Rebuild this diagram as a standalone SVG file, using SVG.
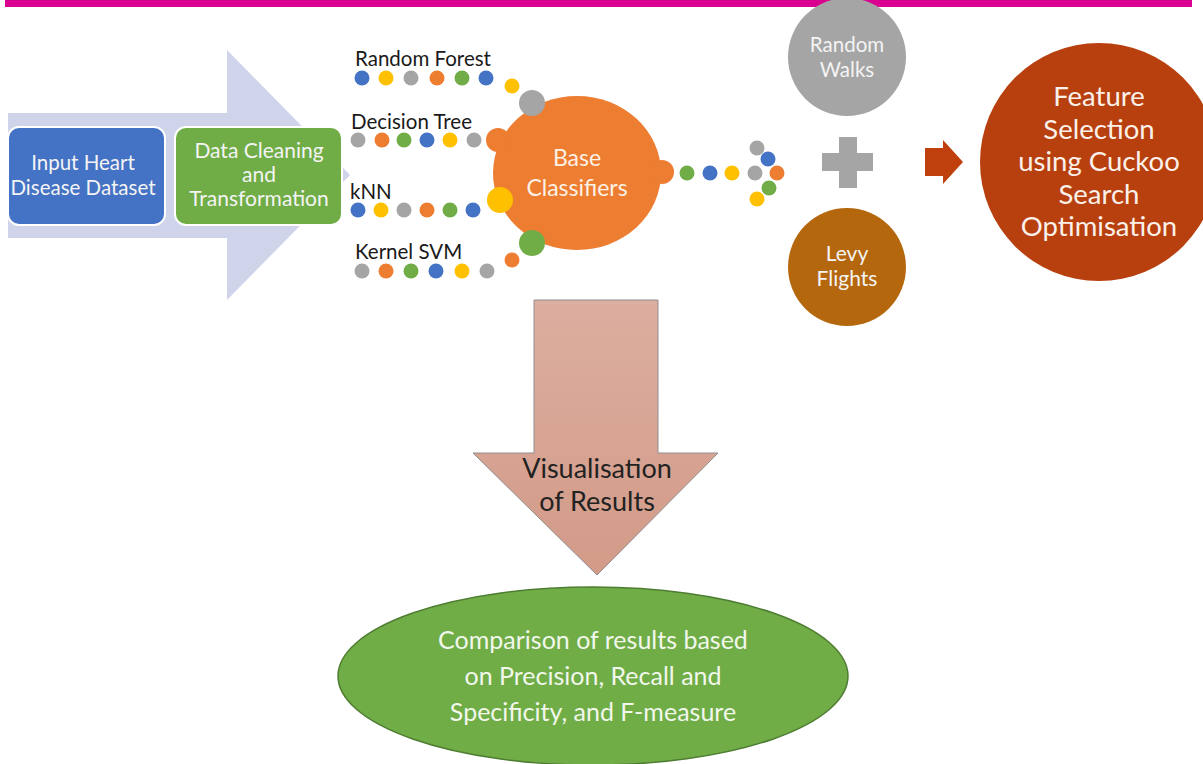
<svg xmlns="http://www.w3.org/2000/svg" width="1203" height="764" viewBox="0 0 1203 764">
<defs>
<style>
text{font-family:Lato,"Open Sans","Liberation Sans",sans-serif;text-anchor:middle}
.lbl{font-size:20.5px;fill:#1a1a1a;text-anchor:start}
.wt{fill:#f4f4f4}
.b{fill:#4472c4}.y{fill:#ffc000}.g{fill:#a5a5a5}.o{fill:#ed7d31}.gr{fill:#70ad47}
</style>
<linearGradient id="dg" x1="0" y1="0" x2="0" y2="1">
<stop offset="0" stop-color="#dcae9f"/><stop offset="1" stop-color="#d39a88"/>
</linearGradient>
</defs>
<rect x="0" y="0" width="1203" height="764" fill="#ffffff"/>
<rect x="5" y="0" width="1187" height="7" fill="#d9008f"/>

<g id="big-arrow">
<polygon points="8,113 227,113 227,50 350,175 227,300 227,238 8,238" fill="#cfd4ea"/>
</g>

<g id="input">
<rect x="8" y="127" width="157" height="98" rx="11" fill="#4472c4" stroke="#ffffff" stroke-width="2"/>
<text class="wt" x="83" y="170" font-size="20.5">Input Heart</text>
<text class="wt" x="83" y="195" font-size="20.5">Disease Dataset</text>
</g>

<g id="cleaning">
<rect x="175" y="127" width="167" height="98" rx="11" fill="#70ad47" stroke="#ffffff" stroke-width="2"/>
<text class="wt" x="259" y="158" font-size="21">Data Cleaning</text>
<text class="wt" x="259" y="182" font-size="21">and</text>
<text class="wt" x="259" y="206" font-size="21">Transformation</text>
</g>

<g id="labels">
<text class="lbl" x="355" y="66">Random Forest</text>
<text class="lbl" x="351" y="129">Decision Tree</text>
<text class="lbl" x="350" y="199">kNN</text>
<text class="lbl" x="355" y="259">Kernel SVM</text>
</g>

<g id="base-classifiers">
<ellipse cx="577" cy="173" rx="84" ry="77" class="o"/>
<circle cx="498" cy="140" r="12" class="o"/>
<circle cx="662" cy="172" r="12" class="o"/>
<text x="577" y="166" font-size="23" fill="#fdf1e6">Base</text>
<text x="577" y="196" font-size="23" fill="#fdf1e6">Classifiers</text>
</g>

<g id="connectors">
<circle cx="362" cy="78" r="7.5" class="b"/>
<circle cx="386" cy="78" r="7.5" class="y"/>
<circle cx="411" cy="78" r="7.5" class="g"/>
<circle cx="437" cy="78" r="7.5" class="o"/>
<circle cx="462" cy="78" r="7.5" class="gr"/>
<circle cx="486" cy="78" r="7.5" class="b"/>
<circle cx="512" cy="86" r="7.5" class="y"/>
<circle cx="532" cy="103" r="13" class="g"/>
<circle cx="358" cy="140" r="7.5" class="g"/>
<circle cx="382" cy="140" r="7.5" class="o"/>
<circle cx="404" cy="140" r="7.5" class="gr"/>
<circle cx="427" cy="140" r="7.5" class="b"/>
<circle cx="450" cy="140" r="7.5" class="y"/>
<circle cx="474" cy="140" r="7.5" class="g"/>
<circle cx="358" cy="210" r="7.5" class="b"/>
<circle cx="381" cy="210" r="7.5" class="y"/>
<circle cx="404" cy="210" r="7.5" class="g"/>
<circle cx="427" cy="210" r="7.5" class="o"/>
<circle cx="450" cy="210" r="7.5" class="gr"/>
<circle cx="473" cy="210" r="7.5" class="b"/>
<circle cx="500" cy="200" r="13" class="y"/>
<circle cx="362" cy="271" r="7.5" class="g"/>
<circle cx="386" cy="271" r="7.5" class="o"/>
<circle cx="411" cy="271" r="7.5" class="gr"/>
<circle cx="436" cy="271" r="7.5" class="b"/>
<circle cx="462" cy="271" r="7.5" class="y"/>
<circle cx="487" cy="271" r="7.5" class="g"/>
<circle cx="512" cy="260" r="7.5" class="o"/>
<circle cx="532" cy="243" r="13" class="gr"/>
<circle cx="687" cy="173" r="7.5" class="gr"/>
<circle cx="710" cy="173" r="7.5" class="b"/>
<circle cx="732" cy="173" r="7.5" class="y"/>
<circle cx="755" cy="173" r="7.5" class="g"/>
<circle cx="757" cy="148" r="7.5" class="g"/>
<circle cx="768" cy="159" r="7.5" class="b"/>
<circle cx="777" cy="173" r="7.5" class="o"/>
<circle cx="769" cy="188" r="7.5" class="gr"/>
<circle cx="757" cy="199" r="7.5" class="y"/>
<path d="M839,137 H857 V153 H873 V171 H857 V188 H839 V171 H822 V153 H839 Z" fill="#a5a5a5"/>
<polygon points="925,148 943,148 943,140 963,162 943,184 943,176 925,176" fill="#c0400d"/>
<polygon points="534,300 658,300 658,453 718,453 597,575 473,453 534,453" fill="url(#dg)" stroke="#8f8f8f" stroke-width="1"/>
<text x="597" y="478" font-size="27" fill="#222222">Visualisation</text>
<text x="597" y="511" font-size="27" fill="#222222">of Results</text>
</g>

<g id="random-walks">
<circle cx="847" cy="57" r="59" fill="#a5a5a5"/>
<text x="847" y="52" font-size="20.5" fill="#f4f4f4">Random</text>
<text x="847" y="77" font-size="20.5" fill="#f4f4f4">Walks</text>
</g>

<g id="levy-flights">
<circle cx="847" cy="267" r="59" fill="#b5670d"/>
<text x="847" y="261" font-size="21" fill="#f4f4f4">Levy</text>
<text x="847" y="286" font-size="21" fill="#f4f4f4">Flights</text>
</g>

<g id="feature-selection">
<circle cx="1099" cy="162" r="119" fill="#b8400e"/>
<text x="1099" y="106" font-size="27.5" fill="#fbf1ea">Feature</text>
<text x="1099" y="139" font-size="27.5" fill="#fbf1ea">Selection</text>
<text x="1099" y="171" font-size="27.5" fill="#fbf1ea">using Cuckoo</text>
<text x="1099" y="204" font-size="27.5" fill="#fbf1ea">Search</text>
<text x="1099" y="236" font-size="27.5" fill="#fbf1ea">Optimisation</text>
</g>

<g id="comparison">
<ellipse cx="593" cy="676" rx="255" ry="89" fill="#70ad47" stroke="#4e7d32" stroke-width="1.5"/>
<text x="593" y="649" font-size="25" fill="#f2f7ec">Comparison of results based</text>
<text x="593" y="685" font-size="25" fill="#f2f7ec">on Precision, Recall and</text>
<text x="593" y="721" font-size="25" fill="#f2f7ec">Specificity, and F-measure</text>
</g>
</svg>
